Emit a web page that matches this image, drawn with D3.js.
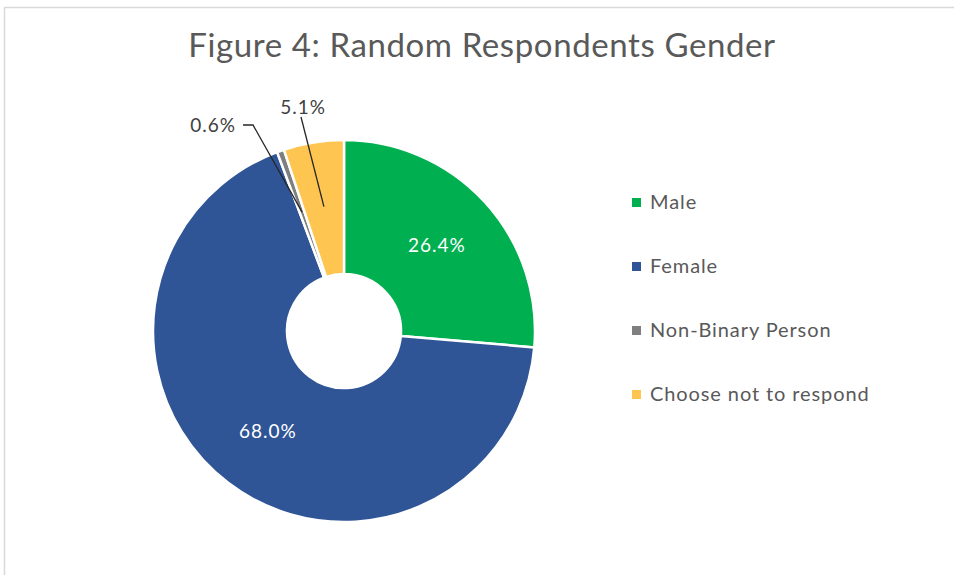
<!DOCTYPE html>
<html>
<head>
<meta charset="utf-8">
<script src="https://cdn.jsdelivr.net/npm/d3@7"></script>
<style>
  html, body { margin: 0; padding: 0; background: #fff; }
  svg { display: block; }
  text { font-family: Lato, "Open Sans", sans-serif; }
</style>
</head>
<body>
<svg id="chart" width="954" height="575"></svg>
<script>
// Survey responses by gender (percent of random respondents)
const categories = ["Male", "Female", "Non-Binary Person", "Choose not to respond"];
const shares = [26.4, 68.0, 0.6, 5.1];
const colors = ["#00B050", "#2F5597", "#7F7F7F", "#FFC551"];
const titleText = "Figure 4: Random Respondents Gender";

const svg = d3.select("#chart");

// Chart frame
svg.append("path")
  .attr("d", "M4.5,575 V7.5 H954")
  .attr("fill", "none")
  .attr("stroke", "#d9d9d9")
  .attr("stroke-width", 1.5);

// Title
svg.append("text")
  .attr("x", 482).attr("y", 57)
  .attr("text-anchor", "middle")
  .attr("font-size", 33)
  .attr("letter-spacing", 0.6)
  .attr("fill", "#595959")
  .text(titleText);

const cx = 344, cy = 331, rOuter = 191, rInner = 57;
const g = svg.append("g").attr("transform", `translate(${cx},${cy})`);

const pie = d3.pie().sort(null).value(d => d.value);
const arcs = pie(categories.map((c, i) => ({ name: c, value: shares[i], color: colors[i] })));
const arc = d3.arc().innerRadius(rInner).outerRadius(rOuter);
const labelArc = d3.arc().innerRadius(126).outerRadius(126);

g.selectAll("path.slice")
  .data(arcs)
  .join("path")
  .attr("class", "slice")
  .attr("d", arc)
  .attr("fill", d => d.data.color)
  .attr("stroke", "#fff")
  .attr("stroke-width", 2.5)
  .attr("stroke-linejoin", "round");

const fmt = v => v.toFixed(1) + "%";

// Inside labels for the large slices
g.selectAll("text.inside")
  .data(arcs.filter(d => d.data.value > 10))
  .join("text")
  .attr("class", "inside")
  .attr("transform", d => `translate(${labelArc.centroid(d)})`)
  .attr("text-anchor", "middle")
  .attr("dy", "0.35em")
  .attr("font-size", 19)
  .attr("letter-spacing", 1)
  .attr("fill", "#fff")
  .text(d => fmt(d.data.value));

// Outside labels with leader lines for the small slices
const calloutOffsets = {
  "Non-Binary Person": { text: [-131, -206], elbow: [-91, -206] },
  "Choose not to respond": { text: [-41, -224], elbow: [-43, -214] }
};
const small = arcs.filter(d => d.data.value < 10);
small.forEach(d => {
  const o = calloutOffsets[d.data.name];
  const end = labelArc.centroid(d);
  const pts = d.data.name === "Non-Binary Person"
    ? [[o.elbow[0] - 10, o.elbow[1]], o.elbow, end]
    : [o.elbow, end];
  g.append("path")
    .attr("d", d3.line()(pts))
    .attr("fill", "none")
    .attr("stroke", "#262626")
    .attr("stroke-width", 1.3);
  g.append("text")
    .attr("x", o.text[0]).attr("y", o.text[1])
    .attr("text-anchor", "middle")
    .attr("dy", "0.35em")
    .attr("font-size", 19)
    .attr("letter-spacing", 1)
    .attr("fill", "#404040")
    .text(fmt(d.data.value));
});

// Legend
const legend = svg.append("g").attr("transform", "translate(632,202)");
const items = legend.selectAll("g")
  .data(categories)
  .join("g")
  .attr("transform", (d, i) => `translate(0,${i * 64})`);
items.append("rect")
  .attr("x", 0).attr("y", -4)
  .attr("width", 9).attr("height", 9)
  .attr("fill", (d, i) => colors[i]);
items.append("text")
  .attr("x", 18).attr("y", 0)
  .attr("dy", "0.35em")
  .attr("font-size", 20)
  .attr("letter-spacing", 0.9)
  .attr("fill", "#595959")
  .text(d => d);
</script>
</body>
</html>
